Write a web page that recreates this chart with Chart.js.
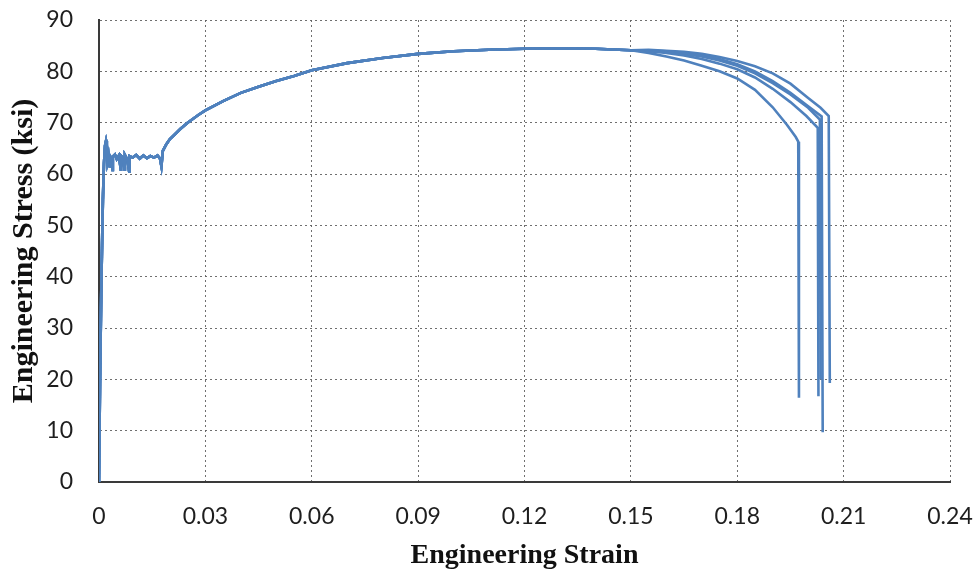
<!DOCTYPE html>
<html>
<head>
<meta charset="utf-8">
<script src="https://cdn.jsdelivr.net/npm/chart.js@4.4.1/dist/chart.umd.min.js"></script>
<style>
    html, body { margin: 0; padding: 0; background: #fff; }
    #wrap { width: 978px; height: 576px; }
</style>
</head>
<body>
<div id="wrap"><canvas id="myChart" width="978" height="576"></canvas></div>
<script>
// tick labels
const xTickValues = [0, 0.03, 0.06, 0.09, 0.12, 0.15, 0.18, 0.21, 0.24];
const xTickLabels = ["0", "0.03", "0.06", "0.09", "0.12", "0.15", "0.18", "0.21", "0.24"];
const yTickValues = [0, 10, 20, 30, 40, 50, 60, 70, 80, 90];
const yTickLabels = ["0", "10", "20", "30", "40", "50", "60", "70", "80", "90"];

// shared part of the curves (elastic, yield plateau, hardening)
const baseStrain = [0, 0.0003, 0.0007, 0.0011, 0.0014, 0.0017, 0.0020, 0.0022, 0.0024, 0.0027,
    0.0030, 0.0031, 0.0035, 0.0038, 0.0039, 0.0045, 0.0050, 0.0056, 0.0062, 0.0063,
    0.0068, 0.0072, 0.0073, 0.0080, 0.0085, 0.0086, 0.0095, 0.0105, 0.0115, 0.0125,
    0.0135, 0.0145, 0.0155, 0.0165, 0.0172, 0.0176, 0.0180, 0.0190, 0.0200, 0.0215,
    0.0230, 0.0250, 0.0280, 0.0300, 0.0350, 0.0400, 0.0450, 0.0500, 0.0550, 0.0600,
    0.0700, 0.0800, 0.0900, 0.1000, 0.1100, 0.1200, 0.1300, 0.1400, 0.1500];
const baseStress = [0, 20, 40, 55, 62, 65.5, 66.5, 65.8, 62.5, 63.6,
    61.5, 63.5, 63.0, 60.8, 63.4, 63.8, 62.9, 63.6, 60.6, 63.5,
    63.1, 60.9, 63.7, 62.8, 60.5, 63.5, 63.2, 63.7, 63.0, 63.6,
    63.1, 63.5, 63.2, 63.6, 63.0, 61.5, 64.5, 65.8, 66.8, 67.8,
    68.8, 70.0, 71.5, 72.4, 74.2, 75.8, 77.0, 78.1, 79.1, 80.2,
    81.6, 82.6, 83.4, 83.9, 84.2, 84.4, 84.5, 84.4, 84.1];

// specimen tails (necking and fracture)
const tail1Strain = [0.155, 0.160, 0.165, 0.170, 0.175, 0.180, 0.185, 0.190, 0.194, 0.1965, 0.1972, 0.1974];
const tail1Stress = [83.6, 82.9, 82.1, 81.1, 80.0, 78.6, 76.4, 73.0, 69.6, 67.2, 66.3, 16.4];
const tail2Strain = [0.155, 0.160, 0.165, 0.170, 0.175, 0.180, 0.185, 0.190, 0.195, 0.1995, 0.2027, 0.2029];
const tail2Stress = [83.9, 83.6, 83.1, 82.4, 81.5, 80.4, 78.8, 76.6, 74.0, 71.3, 69.0, 16.7];
const tail3Strain = [0.155, 0.160, 0.165, 0.170, 0.175, 0.180, 0.185, 0.190, 0.195, 0.200, 0.2033, 0.2035];
const tail3Stress = [84.0, 83.8, 83.4, 82.9, 82.1, 81.1, 79.6, 77.7, 75.5, 72.9, 70.6, 20.0];
const tail4Strain = [0.155, 0.160, 0.165, 0.170, 0.175, 0.180, 0.185, 0.190, 0.195, 0.200, 0.2038, 0.2041];
const tail4Stress = [84.1, 83.9, 83.6, 83.1, 82.4, 81.4, 80.0, 78.1, 75.8, 73.2, 71.2, 9.7];
const tail5Strain = [0.155, 0.160, 0.165, 0.170, 0.175, 0.180, 0.185, 0.190, 0.195, 0.200, 0.2035, 0.2058, 0.2061];
const tail5Stress = [84.2, 84.0, 83.8, 83.4, 82.8, 82.0, 81.0, 79.6, 77.6, 74.8, 72.9, 71.3, 19.3];

const tails = [
    [tail1Strain, tail1Stress],
    [tail2Strain, tail2Stress],
    [tail3Strain, tail3Stress],
    [tail4Strain, tail4Stress],
    [tail5Strain, tail5Stress],
];

function toPoints(xs, ys) {
    return xs.map((x, i) => ({ x: x, y: ys[i] }));
}

const datasets = tails.map((t, i) => ({
    label: "Specimen " + (i + 1),
    data: toPoints(baseStrain, baseStress).concat(toPoints(t[0], t[1])),
    showLine: true,
    borderColor: "rgb(79,129,189)",
    borderWidth: 2.6,
    pointRadius: 0,
    tension: 0,
}));

const gridStyle = {
    color: "rgba(95,95,95,0.9)",
    lineWidth: 1,
    drawTicks: false,
};
const tickFont = { family: "Lato", size: 23 };
const titleFont = { family: "Liberation Serif", size: 28, weight: "bold" };

const Mychart = document.getElementById("myChart");

new Chart(Mychart, {
    type: "scatter",
    data: { datasets: datasets },
    options: {
        responsive: false,
        animation: false,
        layout: { padding: { top: 20, right: 28, left: 0, bottom: 0 } },
        plugins: {
            legend: { display: false },
            tooltip: { enabled: false },
        },
        scales: {
            x: {
                type: "linear",
                min: 0,
                max: 0.24,
                grid: gridStyle,
                border: { display: true, color: "#3a3a3a", width: 2, dash: [2, 3] },
                afterBuildTicks: (s) => { s.ticks = xTickValues.map(v => ({ value: v })); },
                afterFit: (s) => {
                    s.height = 94;
                    s.paddingLeft = 0;
                    s.paddingRight = 0;
                },
                ticks: {
                    font: tickFont,
                    color: "#1e1e1e",
                    padding: 21,
                    maxRotation: 0,
                    callback: (v, i) => xTickLabels[i],
                },
                title: {
                    display: true,
                    text: "Engineering Strain",
                    font: titleFont,
                    color: "#111",
                    padding: { top: 0, bottom: 3 },
                },
            },
            y: {
                type: "linear",
                min: 0,
                max: 90,
                grid: gridStyle,
                border: { display: true, color: "#3a3a3a", width: 2, dash: [2, 3] },
                afterBuildTicks: (s) => { s.ticks = yTickValues.map(v => ({ value: v })); },
                afterFit: (s) => {
                    s.width = 99;
                    s.paddingTop = 0;
                    s.paddingBottom = 0;
                },
                ticks: {
                    font: tickFont,
                    color: "#1e1e1e",
                    padding: 26,
                    callback: (v, i) => yTickLabels[i],
                },
                title: {
                    display: true,
                    text: "Engineering Stress (ksi)",
                    font: { family: "Liberation Serif", size: 30, weight: "bold" },
                    color: "#111",
                    padding: { top: 6, bottom: 0 },
                },
            },
        },
    },
});
</script>
</body>
</html>
